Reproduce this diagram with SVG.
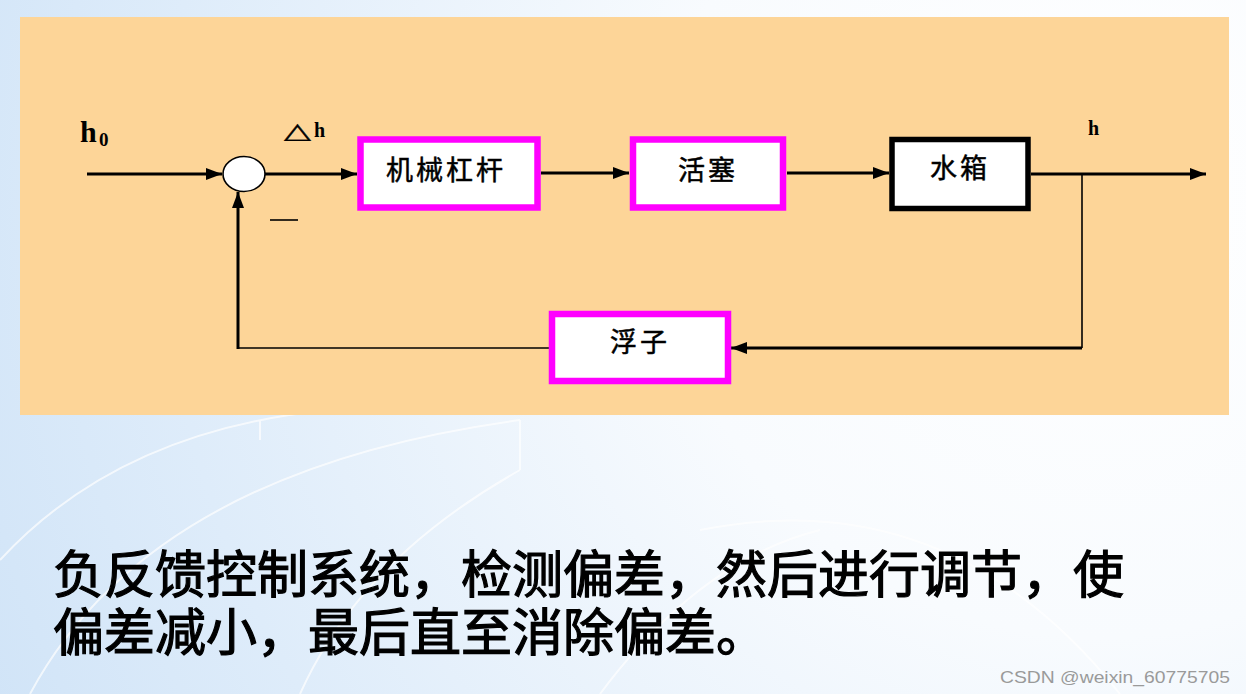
<svg xmlns="http://www.w3.org/2000/svg" width="1246" height="694" viewBox="0 0 1246 694">
<defs>
<radialGradient id="bg" cx="1100" cy="200" r="1250" gradientUnits="userSpaceOnUse">
<stop offset="0" stop-color="#ffffff"/>
<stop offset="0.35" stop-color="#f8fbfe"/>
<stop offset="0.75" stop-color="#deecfa"/>
<stop offset="1" stop-color="#cfe3f7"/>
</radialGradient>
<marker id="arr" markerUnits="userSpaceOnUse" markerWidth="18" markerHeight="14" refX="16" refY="6" orient="auto">
<path d="M0,0 L16,6 L0,12 z" fill="#000"/>
</marker>
<style>
.box{fill:#fff;stroke:#ff00ff;stroke-width:6.5}
.lbl{font-family:"Noto Sans CJK SC","Noto Sans CJK JP",sans-serif;font-size:27px;letter-spacing:3px;fill:#000;stroke:#000;stroke-width:0.5}
.ser{font-family:"Liberation Serif","DejaVu Serif",serif;font-weight:bold;fill:#000}
.thick{stroke:#000;stroke-width:3;fill:none}
.thin{stroke:#000;stroke-width:1.6;fill:none}
.big{font-family:"Noto Sans CJK SC","Noto Sans CJK JP",sans-serif;font-size:51px;fill:#000;stroke:#000;stroke-width:1.2}
</style>
</defs>
<rect x="0" y="0" width="1246" height="694" fill="url(#bg)"/>
<g fill="none" stroke="#ffffff" stroke-width="2" opacity="0.7">
<path d="M0,560 Q120,430 330,410"/>
<path d="M30,694 Q150,470 520,420"/>
<path d="M260,420 L260,440 M520,420 L520,470"/>
<path d="M520,470 Q360,560 300,694"/>
<path d="M700,530 Q950,480 1120,694"/>
<path d="M600,694 Q700,560 820,530"/>
</g>
<rect x="20" y="17" width="1209" height="398" fill="#fdd598"/>

<g id="connectors">
<line class="thick" x1="87" y1="174" x2="222" y2="174" marker-end="url(#arr)"/>
<line class="thick" x1="265" y1="174" x2="357" y2="174" marker-end="url(#arr)"/>
<line class="thick" x1="541" y1="173" x2="629" y2="173" marker-end="url(#arr)"/>
<line class="thick" x1="787" y1="173" x2="889" y2="173" marker-end="url(#arr)"/>
<line class="thick" x1="1031" y1="174" x2="1206" y2="174" marker-end="url(#arr)"/>
<line class="thin" x1="1082" y1="174" x2="1082" y2="348"/>
<line class="thick" x1="1082" y1="348" x2="731" y2="348" marker-end="url(#arr)"/>
<line class="thin" x1="549" y1="348" x2="237" y2="348"/>
<line class="thick" x1="238" y1="349" x2="238" y2="192" marker-end="url(#arr)"/>
</g>

<g id="sum">
<ellipse cx="244" cy="174" rx="21" ry="17.5" fill="#fff" stroke="#000" stroke-width="1.6"/>
<line x1="270" y1="220" x2="298" y2="220" stroke="#000" stroke-width="1.6"/>
</g>

<g id="labels">
<text class="ser" x="80" y="142" font-size="30">h</text>
<text class="ser" x="99" y="146" font-size="19">0</text>
<text transform="translate(284,138) scale(1,0.62)" font-family="DejaVu Sans,sans-serif" font-size="35" fill="#000" stroke="#000" stroke-width="0.6">△</text>
<text class="ser" x="314" y="137" font-size="20">h</text>
<text class="ser" x="1088" y="135" font-size="20">h</text>
</g>

<g id="n1">
<rect class="box" x="360.5" y="139.5" width="177" height="68"/>
<text class="lbl" x="386" y="180">机械杠杆</text>
</g>
<g id="n2">
<rect class="box" x="633" y="139.5" width="150" height="68"/>
<text class="lbl" x="678" y="180">活塞</text>
</g>
<g id="n3">
<rect x="892" y="139.5" width="136" height="69" fill="#fff" stroke="#000" stroke-width="5.5"/>
<text class="lbl" x="930" y="178">水箱</text>
</g>
<g id="n4">
<rect class="box" x="552" y="314" width="176" height="67"/>
<text class="lbl" x="610" y="352">浮子</text>
</g>

<g id="caption">
<text class="big" x="53" y="593">负反馈控制系统，检测偏差，然后进行调节，使</text>
<text class="big" x="53" y="651">偏差减小，最后直至消除偏差。</text>
</g>
<text x="1000" y="683" font-family="Liberation Sans,Arial,sans-serif" font-size="17" fill="#9a9a9a" textLength="230" lengthAdjust="spacingAndGlyphs">CSDN @weixin_60775705</text>
</svg>
